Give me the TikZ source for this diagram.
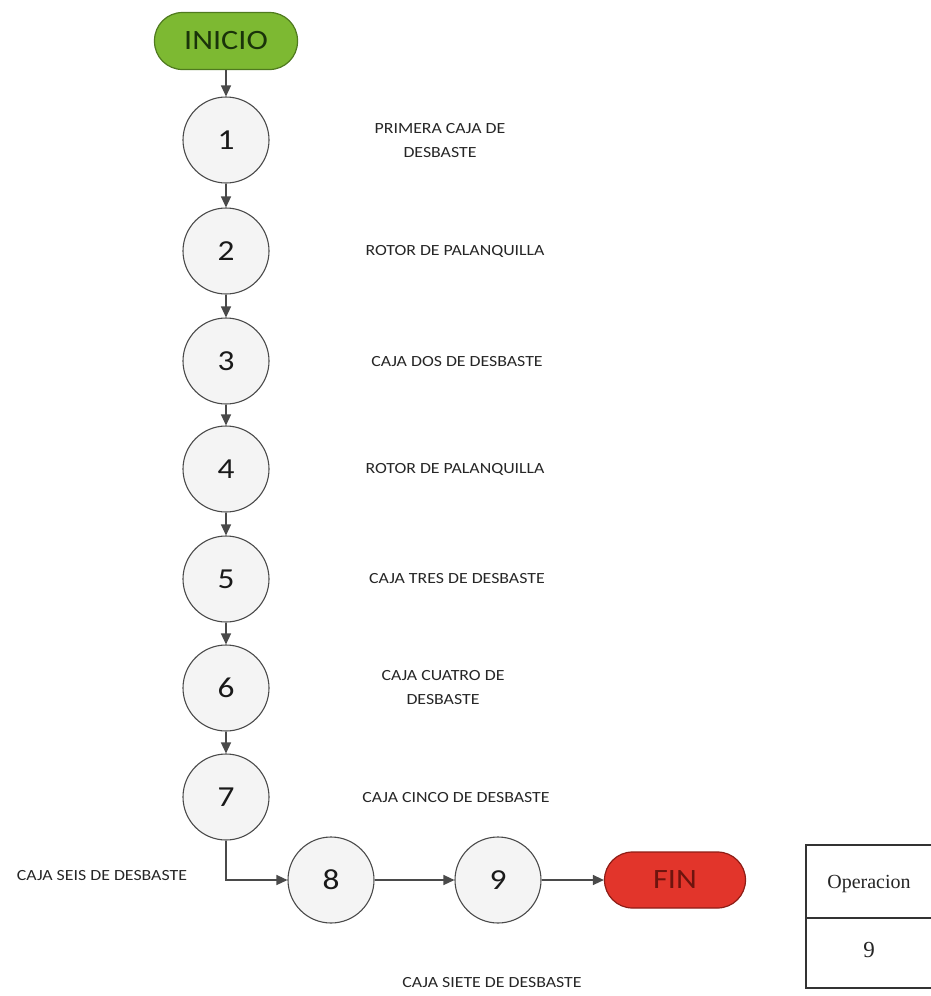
\documentclass[tikz,border=0pt]{standalone}
\usepackage{fontspec}
\setmainfont{Carlito}[FakeStretch=1.15]
\newfontfamily\tablefont{Liberation Serif}
\usetikzlibrary{arrows.meta}

\definecolor{startfill}{HTML}{7DB932}
\definecolor{startline}{HTML}{4F7A1F}
\definecolor{starttext}{HTML}{1A330A}
\definecolor{endfill}{HTML}{E2352B}
\definecolor{endline}{HTML}{8E1D16}
\definecolor{endtext}{HTML}{6E140E}
\definecolor{circfill}{HTML}{F4F4F4}
\definecolor{edgegray}{HTML}{4A4A4A}
\definecolor{labelgray}{HTML}{262626}

\tikzset{
  terminal/.style={draw, line width=1.2pt, rectangle, rounded corners=28pt,
    minimum width=143pt, minimum height=57pt, inner sep=0pt,
    font=\fontsize{28}{30}\selectfont},
  opcircle/.style={draw=edgegray, line width=1.1pt, circle, fill=circfill,
    minimum size=86pt, inner sep=0pt, text=black!90,
    font=\fontsize{29}{30}\selectfont},
  steplabel/.style={align=center, text=labelgray, inner sep=0pt,
    font=\fontsize{15.5}{24}\selectfont},
  flow/.style={draw=edgegray, line width=1.3pt,
    -{Triangle[length=11pt, width=10pt]}},
  tableline/.style={draw=black!80, line width=1.8pt}
}

\begin{document}
\begin{tikzpicture}[x=1pt, y=-1pt]
  \useasboundingbox (0,0) rectangle (931,996);

  % start and end terminals
  \node[terminal, fill=startfill, draw=startline, text=starttext] (inicio) at (226,41) {INICIO};
  \node[terminal, fill=endfill, draw=endline, text=endtext, minimum width=141pt, minimum height=56pt] (fin) at (675,880) {FIN};

  % operations
  \node[opcircle] (op1) at (226,140) {1};
  \node[opcircle] (op2) at (226,251) {2};
  \node[opcircle] (op3) at (226,361) {3};
  \node[opcircle] (op4) at (226,469) {4};
  \node[opcircle] (op5) at (226,579) {5};
  \node[opcircle] (op6) at (226,688) {6};
  \node[opcircle] (op7) at (226,797) {7};
  \node[opcircle] (op8) at (331,880) {8};
  \node[opcircle] (op9) at (498,880) {9};

  % descriptions
  \node[steplabel] (d1) at (440,141) {PRIMERA CAJA DE\\DESBASTE};
  \node[steplabel] (d2) at (455,251) {ROTOR DE PALANQUILLA};
  \node[steplabel] (d3) at (457,362) {CAJA DOS DE DESBASTE};
  \node[steplabel] (d4) at (455,469) {ROTOR DE PALANQUILLA};
  \node[steplabel] (d5) at (457,579) {CAJA TRES DE DESBASTE};
  \node[steplabel] (d6) at (443,688) {CAJA CUATRO DE\\DESBASTE};
  \node[steplabel] (d7) at (456,798) {CAJA CINCO DE DESBASTE};
  \node[steplabel] (d8) at (102,876) {CAJA SEIS DE DESBASTE};
  \node[steplabel] (d9) at (492,983) {CAJA SIETE DE DESBASTE};

  % connectors
  \draw[flow] (inicio) -- (op1);
  \draw[flow] (op1) -- (op2);
  \draw[flow] (op2) -- (op3);
  \draw[flow] (op3) -- (op4);
  \draw[flow] (op4) -- (op5);
  \draw[flow] (op5) -- (op6);
  \draw[flow] (op6) -- (op7);
  \draw[flow] (op7.south) |- (op8.west);
  \draw[flow] (op8) -- (op9);
  \draw[flow] (op9) -- (fin);

  % summary table
  \coordinate (ttl) at (806,845);
  \coordinate (ttr) at (945,845);
  \coordinate (tml) at (806,918);
  \coordinate (tmr) at (945,918);
  \coordinate (tbl) at (806,988);
  \coordinate (tbr) at (945,988);
  \draw[tableline] (ttr) -- (ttl) -- (tbl) -- (tbr);
  \draw[tableline, line width=2.6pt] (tml) -- (tmr);
  \node[font=\tablefont\fontsize{20}{22}\selectfont, text=black!85] (thead) at (869,884) {Operacion};
  \node[font=\tablefont\fontsize{23}{24}\selectfont, text=black!85] (tval) at (869,950) {9};
\end{tikzpicture}
\end{document}
